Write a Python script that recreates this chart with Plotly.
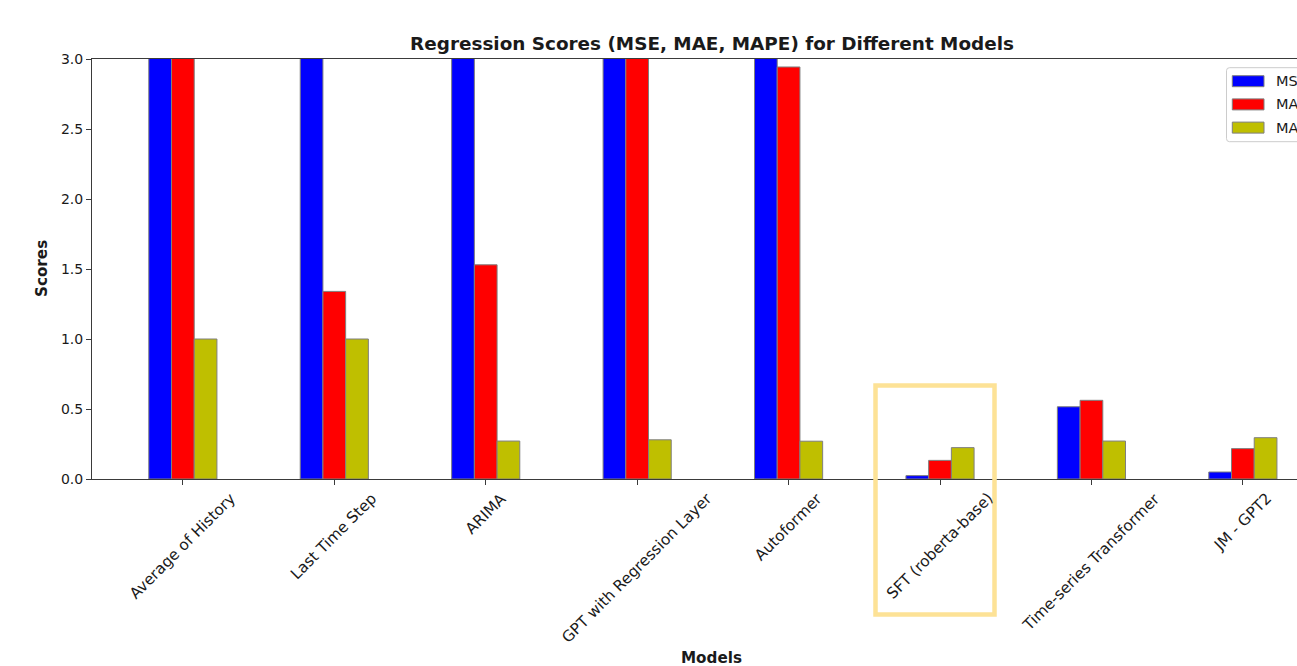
import plotly.graph_objects as go

# Models and their regression error scores
models = [
    "Average of History",
    "Last Time Step",
    "ARIMA",
    "GPT with Regression Layer",
    "Autoformer",
    "SFT (roberta-base)",
    "Time-series Transformer",
    "JM - GPT2",
]
mse = [15.2, 4.6, 5.2, 18.7, 13.9, 0.024, 0.516, 0.05]
mae = [3.3, 1.34, 1.53, 3.6, 2.943, 0.133, 0.562, 0.217]
mape = [1.0, 1.0, 0.271, 0.28, 0.27, 0.224, 0.271, 0.295]

series_names = ["MSE", "MAE", "MAPE"]
series_values = [mse, mae, mape]
series_colors = ["#0000FF", "#FF0000", "#BFBF00"]

highlight_model = "SFT (roberta-base)"

# Figure geometry (pixels)
FIG_W, FIG_H = 1297, 666
M_L, M_T, M_B = 92, 59, 187
PLOT_W = FIG_W - M_L
PLOT_H = FIG_H - M_T - M_B
X_MIN = -0.6
X_MAX = X_MIN + PLOT_W / 151.43


def px_x(px):
    return (px - M_L) / PLOT_W


def px_y(py):
    return (M_T + PLOT_H - py) / PLOT_H


def idx_px(i):
    return M_L + (i - X_MIN) * PLOT_W / (X_MAX - X_MIN)


FONT = "DejaVu Sans"
TXT = "#1a1a1a"
AXC = "#3a3a3a"

fig = go.Figure()
for name, vals, col in zip(series_names, series_values, series_colors):
    fig.add_trace(go.Bar(
        x=models, y=vals, name=name,
        marker=dict(color=col, line=dict(color="#7f7f7f", width=1)),
        showlegend=False,
    ))

annotations = []
# Rotated category labels centred under each tick
for m in models:
    annotations.append(dict(
        x=m, xref="x", y=px_y(487), yref="paper",
        text=m, showarrow=False, textangle=-45,
        xanchor="center", yanchor="top",
        font=dict(family=FONT, size=15.3, color=TXT),
    ))

# Axis titles
annotations.append(dict(
    x=px_x(712), xref="paper",
    y=px_y(658), yref="paper", text="<b>Models</b>", showarrow=False,
    xanchor="center", yanchor="middle",
    font=dict(family=FONT, size=15.2, color=TXT),
))
annotations.append(dict(
    x=px_x(42), xref="paper", y=0.5, yref="paper", text="<b>Scores</b>",
    showarrow=False, textangle=-90, xanchor="center", yanchor="middle",
    font=dict(family=FONT, size=15.2, color=TXT),
))

shapes = []
# Legend frame (extends past the right edge)
lx0, ly0, lx1, ly1, r = 1226.5, 67.7, 1360, 141.7, 3
shapes.append(dict(
    type="path", xref="paper", yref="paper",
    path=(f"M {px_x(lx1)},{px_y(ly0)} L {px_x(lx0 + r)},{px_y(ly0)} "
          f"Q {px_x(lx0)},{px_y(ly0)} {px_x(lx0)},{px_y(ly0 + r)} "
          f"L {px_x(lx0)},{px_y(ly1 - r)} "
          f"Q {px_x(lx0)},{px_y(ly1)} {px_x(lx0 + r)},{px_y(ly1)} "
          f"L {px_x(lx1)},{px_y(ly1)} Z"),
    line=dict(color="#cccccc", width=1), fillcolor="rgba(255,255,255,0.8)",
))
for k, (name, col) in enumerate(zip(series_names, series_colors)):
    cy = 81.2 + k * 23.2
    shapes.append(dict(
        type="rect", xref="paper", yref="paper",
        x0=px_x(1232.3), x1=px_x(1264), y0=px_y(cy - 5.5), y1=px_y(cy + 5.5),
        fillcolor=col, line=dict(color="#7f7f7f", width=1),
    ))
    annotations.append(dict(
        x=px_x(1274), xref="paper", y=px_y(cy), yref="paper", text=name,
        showarrow=False, xanchor="left", yanchor="middle",
        font=dict(family=FONT, size=14.5, color=TXT),
    ))

# Highlight frame around the selected model
hi = models.index(highlight_model)
cx = idx_px(hi)
shapes.append(dict(
    type="rect", xref="paper", yref="paper",
    x0=px_x(cx - 64.5), x1=px_x(cx + 54.5),
    y0=px_y(614.5), y1=px_y(385.5),
    line=dict(color="#FDE296", width=4.5), fillcolor="rgba(0,0,0,0)",
    layer="above",
))

fig.update_layout(
    width=FIG_W, height=FIG_H,
    margin=dict(l=M_L, r=0, t=M_T, b=M_B, pad=0, autoexpand=False),
    paper_bgcolor="white", plot_bgcolor="white",
    barmode="group", bargap=0.55, bargroupgap=0,
    title=dict(
        text="<b>Regression Scores (MSE, MAE, MAPE) for Different Models</b>",
        x=712 / FIG_W, xanchor="center", xref="container",
        y=1 - 44 / FIG_H, yanchor="middle", yref="container",
        font=dict(family=FONT, size=18.4, color=TXT),
    ),
    xaxis=dict(
        type="category", range=[X_MIN, X_MAX], showgrid=False,
        showline=True, linecolor=AXC, linewidth=1, mirror=True,
        ticks="outside", ticklen=5, tickcolor=AXC, tickwidth=1,
        showticklabels=False, zeroline=False,
    ),
    yaxis=dict(
        range=[0, 3], dtick=0.5, tickformat=".1f", showgrid=False,
        showline=True, linecolor=AXC, linewidth=1, mirror=False,
        ticks="outside", ticklen=5, tickcolor=AXC, tickwidth=1,
        tickfont=dict(family=FONT, size=14, color=TXT),
        zeroline=False,
    ),
    annotations=annotations,
    shapes=shapes,
    showlegend=False,
)

fig.write_html("out.html")
